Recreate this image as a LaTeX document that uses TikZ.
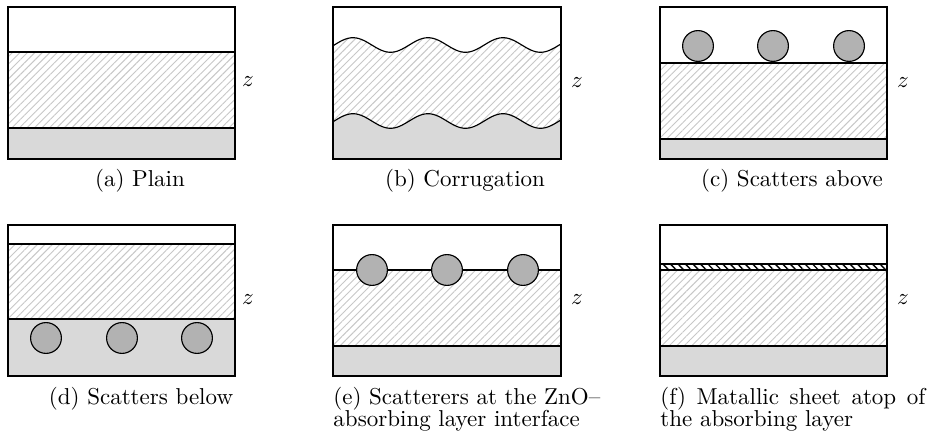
\documentclass[tikz,border=0pt]{standalone}
\usetikzlibrary{patterns.meta}

\begin{document}
\begin{tikzpicture}[
  x=0.4348pt, y=-0.4348pt,
  declare function={wave(\t)=7.3*cos(4.8*(\t-353));},
  box/.style={draw=black, line width=0.5pt},
  hatch/.style={pattern={Lines[angle=45, distance=2.3pt, line width=0.4pt]},
                pattern color=black!22},
  sub/.style={fill=black!15},
  ball/.style={circle, draw=black, fill=black!30, line width=0.5pt,
               inner sep=0pt, minimum size=13.4pt},
  sheet/.style={draw=black, line width=0.5pt,
                pattern={Lines[angle=-45, distance=2.3pt, line width=0.6pt]},
                pattern color=black},
  capt/.style={anchor=base, inner sep=0pt},
  longcapt/.style={anchor=base west, inner sep=0pt, align=left,
                   font={\fontsize{10}{9.6}\selectfont\lineskiplimit=-10pt}}
]
\useasboundingbox (0,0) rectangle (930,439);

%% ---- (a) plain ----
\fill[sub]   (8,128) rectangle (235,159);
\fill[hatch] (8,52) rectangle (235,128);
\draw[box]   (8,7) rectangle (235,159);
\draw[box]   (8,52) -- (235,52);
\draw[box]   (8,128) -- (235,128);
\node (za) at (248,82) {$z$};
\node[capt] (capa) at (140,187) {(a) Plain};

%% ---- (b) corrugation ----
\fill[sub] plot[domain=333:561, samples=90] (\x, {121-wave(\x)})
     -- (561,159) -- (333,159) -- cycle;
\fill[hatch] plot[domain=333:561, samples=90] (\x, {45-wave(\x)})
     -- plot[domain=561:333, samples=90] (\x, {121-wave(\x)}) -- cycle;
\draw[box] plot[domain=333:561, samples=90] (\x, {45-wave(\x)});
\draw[box] plot[domain=333:561, samples=90] (\x, {121-wave(\x)});
\draw[box] (333,7) rectangle (561,159);
\node (zb) at (577,83) {$z$};
\node[capt] (capb) at (465,187) {(b) Corrugation};

%% ---- (c) scatters above ----
\fill[sub]   (660,139) rectangle (887,159);
\fill[hatch] (660,63) rectangle (887,139);
\draw[box]   (660,7) rectangle (887,159);
\draw[box]   (660,63) -- (887,63);
\draw[box]   (660,139) -- (887,139);
\node[ball] (c1) at (698,46) {};
\node[ball] (c2) at (773,46) {};
\node[ball] (c3) at (849,46) {};
\node (zc) at (903,83) {$z$};
\node[capt] (capc) at (792,187) {(c) Scatters above};

%% ---- (d) scatters below ----
\fill[sub]   (8,319) rectangle (235,376);
\fill[hatch] (8,244) rectangle (235,319);
\draw[box]   (8,225) rectangle (235,376);
\draw[box]   (8,244) -- (235,244);
\draw[box]   (8,319) -- (235,319);
\node[ball] (d1) at (46,338) {};
\node[ball] (d2) at (122,338) {};
\node[ball] (d3) at (197,338) {};
\node (zd) at (248,300) {$z$};
\node[capt] (capd) at (141,405) {(d) Scatters below};

%% ---- (e) scatterers at the interface ----
\fill[sub]   (333,346) rectangle (561,376);
\fill[hatch] (333,270) rectangle (561,346);
\draw[box]   (333,225) rectangle (561,376);
\draw[box]   (333,270) -- (561,270);
\draw[box]   (333,346) -- (561,346);
\node[ball] (e1) at (372,270) {};
\node[ball] (e2) at (447,270) {};
\node[ball] (e3) at (523,270) {};
\node (ze) at (577,300) {$z$};
\node[longcapt] (cape) at (333,427)
     {\makebox[116pt][s]{(e) Scatterers at the ZnO--}\\
      absorbing layer interface};

%% ---- (f) metallic sheet ----
\fill[sub]   (660,346) rectangle (887,376);
\fill[hatch] (660,270) rectangle (887,346);
\draw[box]   (660,225) rectangle (887,376);
\draw[sheet] (660,264) rectangle (887,270);
\draw[box]   (660,346) -- (887,346);
\node (zf) at (903,300) {$z$};
\node[longcapt] (capf) at (660,427)
     {\makebox[115.2pt][s]{(f) Matallic sheet atop of}\\
      the absorbing layer};

\end{tikzpicture}
\end{document}
